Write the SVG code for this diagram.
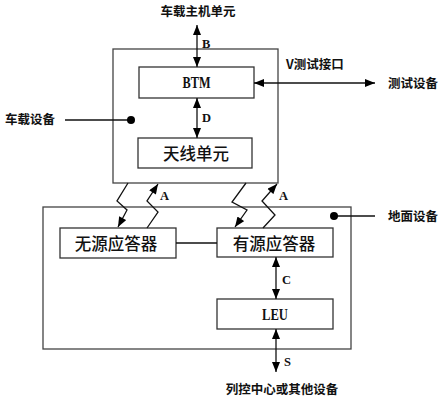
<svg xmlns="http://www.w3.org/2000/svg" width="443" height="400" viewBox="0 0 443 400">
<defs>
<marker id="ah" viewBox="0 0 10 8" refX="10" refY="4" markerWidth="11" markerHeight="8" markerUnits="userSpaceOnUse" orient="auto-start-reverse">
<path d="M0,0 L10,4 L0,8 Z" fill="#000"/>
</marker>
<style>
.box{fill:#fff;stroke:#333;stroke-width:1.3}
.frame{fill:none;stroke:#444;stroke-width:1.3}
.ln{fill:none;stroke:#111;stroke-width:1.3}
.lbl{font-family:"Noto Sans CJK SC","Noto Sans",sans-serif;font-weight:bold;font-size:12.5px;fill:#111}
.bt{font-family:"Noto Sans CJK SC","Noto Sans",sans-serif;font-weight:500;font-size:16.5px;fill:#111;text-anchor:middle;dominant-baseline:central}
.en{font-family:"Liberation Serif",serif;font-weight:bold;font-size:17px;fill:#111;text-anchor:middle;dominant-baseline:central}
.let{font-family:"Liberation Serif",serif;font-weight:bold;font-size:12.5px;fill:#111}
</style>
</defs>
<rect width="443" height="400" fill="#fff"/>
<g id="vehicle-equipment">
<rect class="frame" x="113" y="49" width="165" height="134"/>
</g>
<g id="ground-equipment">
<rect class="frame" x="43" y="207" width="308" height="142"/>
</g>
<g id="btm">
<rect class="box" x="139" y="67" width="115" height="31"/>
<text class="en" x="196.5" y="82.5" textLength="28" lengthAdjust="spacingAndGlyphs">BTM</text>
</g>
<g id="antenna">
<rect class="box" x="138" y="138" width="114" height="30"/>
<text class="bt" x="196" y="153">天线单元</text>
</g>
<g id="passive">
<rect class="box" x="60" y="228" width="116" height="30"/>
<text class="bt" x="116" y="243">无源应答器</text>
</g>
<g id="active">
<rect class="box" x="217" y="228" width="116" height="29"/>
<text class="bt" x="274" y="242.5">有源应答器</text>
</g>
<g id="leu">
<rect class="box" x="217" y="299" width="116" height="30"/>
<text class="en" x="275" y="314.5" textLength="26" lengthAdjust="spacingAndGlyphs">LEU</text>
</g>
<g id="labels">
<text class="lbl" x="198" y="15.5" text-anchor="middle">车载主机单元</text>
<text class="lbl" x="286" y="68.5">V测试接口</text>
<text class="lbl" x="388" y="87.5">测试设备</text>
<text class="lbl" x="5" y="124">车载设备</text>
<text class="lbl" x="388" y="220.5">地面设备</text>
<text class="lbl" x="282" y="393.5" text-anchor="middle">列控中心或其他设备</text>
<text class="let" x="202" y="48">B</text>
<text class="let" x="202" y="122">D</text>
<text class="let" x="160" y="200">A</text>
<text class="let" x="279" y="200">A</text>
<text class="let" x="282" y="284">C</text>
<text class="let" x="284" y="366">S</text>
</g>
<g id="connectors">
<line class="ln" x1="197" y1="25" x2="197" y2="67" marker-start="url(#ah)" marker-end="url(#ah)"/>
<line class="ln" x1="197" y1="98" x2="197" y2="138" marker-start="url(#ah)" marker-end="url(#ah)"/>
<line class="ln" x1="254" y1="83" x2="375" y2="83" marker-start="url(#ah)" marker-end="url(#ah)"/>
<line class="ln" x1="276" y1="257" x2="276" y2="299" marker-start="url(#ah)" marker-end="url(#ah)"/>
<line class="ln" x1="276" y1="329" x2="276" y2="372" marker-start="url(#ah)" marker-end="url(#ah)"/>
<line class="ln" x1="176" y1="243" x2="217" y2="243"/>
<line class="ln" x1="65" y1="120" x2="130" y2="120"/>
<circle cx="131" cy="120" r="4" fill="#000"/>
<line class="ln" x1="334" y1="216" x2="375" y2="216"/>
<circle cx="334" cy="216" r="4" fill="#000"/>
<polyline class="ln" points="128,183 117,201 127,210 118,227" marker-end="url(#ah)"/>
<polyline class="ln" points="147,228 158,212 147,201 158,184" marker-end="url(#ah)"/>
<polyline class="ln" points="246,183 232,202 247,210 235,227" marker-end="url(#ah)"/>
<polyline class="ln" points="263,228 275,215 262,201 277,184" marker-end="url(#ah)"/>
</g>
</svg>
